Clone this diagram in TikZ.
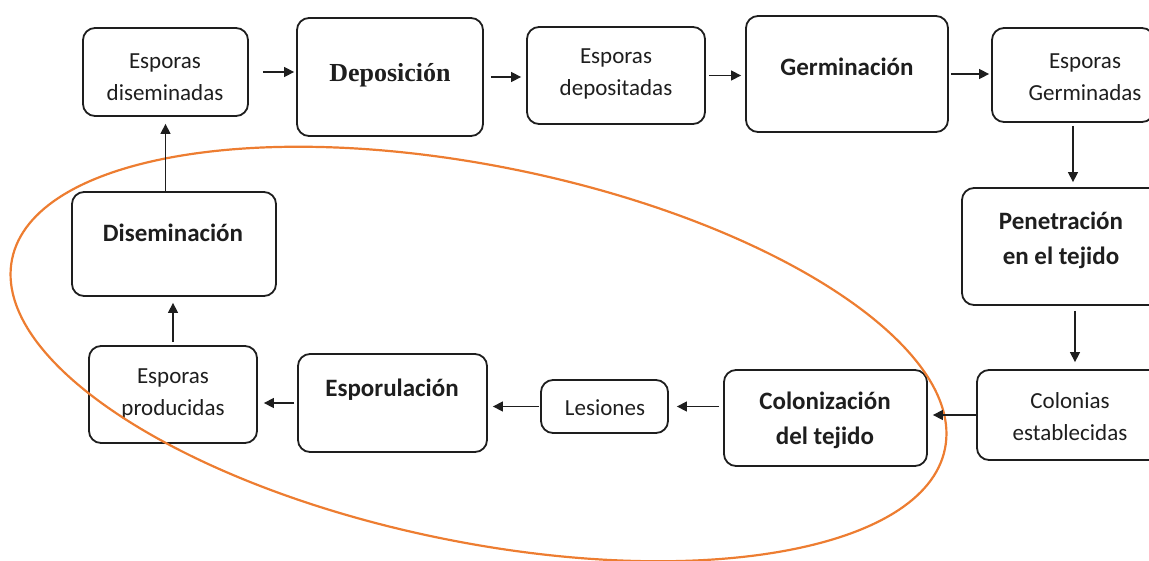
\documentclass[tikz,border=0pt]{standalone}
\usepackage{fontspec}
\setmainfont{Carlito}
\newfontfamily\tms{Liberation Serif}
\usetikzlibrary{arrows.meta}
\definecolor{ellcol}{RGB}{237,125,49}
\definecolor{ink}{RGB}{30,30,30}
\tikzset{
  box/.style={draw=ink, line width=1.8pt, rounded corners=12pt, inner sep=0pt},
  reg/.style={text=ink, align=center, inner sep=0pt, font=\fontsize{23}{32}\selectfont},
  bld/.style={text=ink, align=center, inner sep=0pt, font=\fontsize{25}{35}\selectfont\bfseries},
  arr/.style={draw=ink, line width=1.4pt, -{Triangle[length=10pt,width=10pt]}},
  ring/.style={draw=ellcol, line width=2.2pt}
}
\begin{document}
\begin{tikzpicture}[x=1pt,y=-1pt]
\useasboundingbox (0,0) rectangle (1149,560);
\clip (0,0) rectangle (1149,560);
% boxes
\node[box, minimum width=165pt, minimum height=88pt]  (ed)   at (165.5,72) {};
\node[box, minimum width=186pt, minimum height=118pt] (dep)  at (390,77) {};
\node[box, minimum width=178pt, minimum height=97pt]  (depo) at (616,75.5) {};
\node[box, minimum width=202pt, minimum height=116pt] (germ) at (847,74) {};
\node[box, minimum width=162pt, minimum height=94pt]  (eg)   at (1073,75) {};
\node[box, minimum width=226pt, minimum height=117pt] (pen)  at (1075,246.5) {};
\node[box, minimum width=196pt, minimum height=90pt]  (col)  at (1075,415) {};
\node[box, minimum width=203pt, minimum height=96pt]  (colz) at (825.5,418) {};
\node[box, minimum width=127pt, minimum height=53pt]  (les)  at (604.5,406.5) {};
\node[box, minimum width=189pt, minimum height=98pt]  (esp)  at (392.5,403) {};
\node[box, minimum width=168pt, minimum height=97pt]  (ep)   at (173,394.5) {};
\node[box, minimum width=204pt, minimum height=104pt] (dis)  at (174,244) {};
% texts
\node[reg] (ted)   at (165,77)  {Esporas\\diseminadas};
\node[text=ink, inner sep=0pt, font=\fontsize{26}{30}\selectfont\tms\bfseries] (tdep) at (390,75) {Deposición};
\node[reg] (tdepo) at (616,74)  {Esporas\\depositadas};
\node[bld] (tgerm) at (847,67)  {Germinación};
\node[reg] (teg)   at (1085,77) {Esporas\\Germinadas};
\node[bld] (tpen)  at (1061,240) {Penetración\\en el tejido};
\node[reg] (tcol)  at (1070,417) {Colonias\\establecidas};
\node[bld] (tcolz) at (825,420) {Colonización\\del tejido};
\node[reg] (tles)  at (605,408) {Lesiones};
\node[bld] (tesp)  at (392,390) {Esporulación};
\node[reg] (tep)   at (173,394) {Esporas\\producidas};
\node[bld] (tdis)  at (173,233) {Diseminación};
% orange loop
\begin{scope}[shift={(478.5,354)}, rotate=-11.5]
  \draw[ring] (0pt,0pt) ellipse [x radius=476pt, y radius=188pt];
\end{scope}
% connectors
\draw[arr, shorten <=14pt, shorten >=2pt] (ed.east) -- (ed.east -| dep.west);
\draw[arr, shorten <=7pt, shorten >=5pt] (dep.east) -- (dep.east -| depo.west);
\draw[arr, shorten <=3pt, shorten >=4pt] (depo.east) -- (depo.east -| germ.west);
\draw[arr, shorten <=2pt, shorten >=2pt] (germ.east) -- (germ.east -| eg.west);
\draw[arr, shorten <=3pt, shorten >=5pt] (eg.south) -- (eg.south |- pen.north);
\draw[arr, shorten <=5pt, shorten >=7pt] (pen.south) -- (pen.south |- col.north);
\draw[arr, shorten <=0pt, shorten >=5pt] (col.west) -- (col.west -| colz.east);
\draw[arr, shorten <=4pt, shorten >=8pt] (colz.west |- les.east) -- (les.east);
\draw[arr, shorten <=1pt, shorten >=5pt] (les.west) -- (les.west -| esp.east);
\draw[arr, shorten <=3pt, shorten >=6pt] (esp.west) -- (esp.west -| ep.east);
\draw[arr, shorten <=3pt, shorten >=6pt] (ep.north) -- (ep.north |- dis.south);
\draw[arr, shorten <=0pt, shorten >=7pt] (ed.south |- dis.north) -- (ed.south);
\end{tikzpicture}
\end{document}
